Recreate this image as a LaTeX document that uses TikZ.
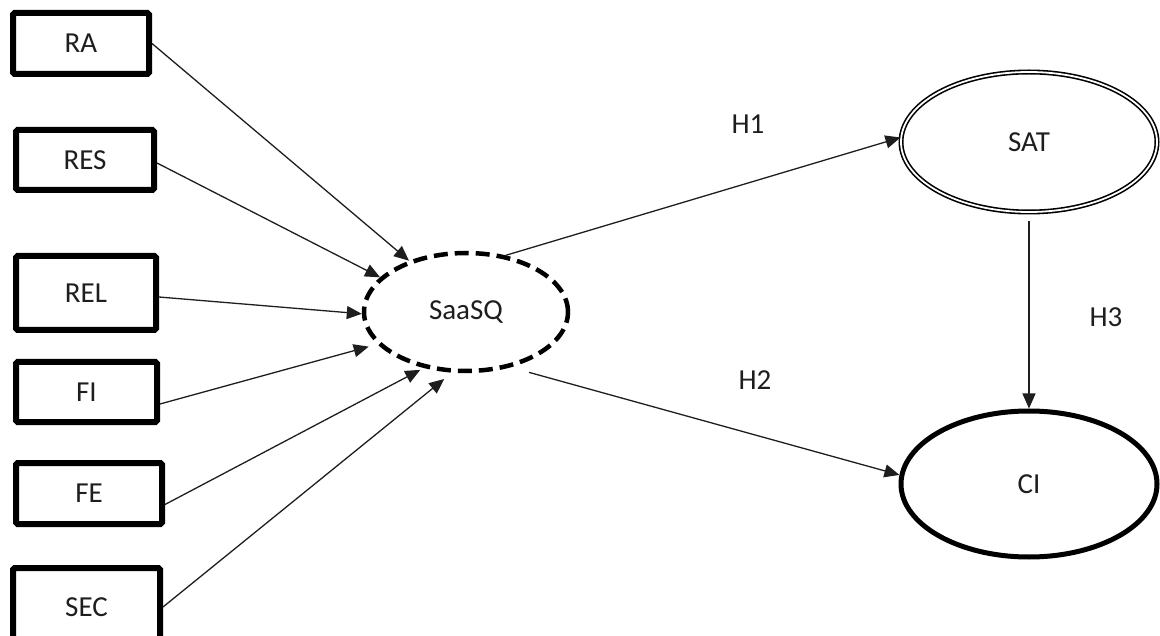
\documentclass[tikz,border=0pt]{standalone}
\usepackage{fontspec}
\setmainfont{Carlito}
\usetikzlibrary{shapes.geometric,arrows.meta}
\definecolor{ink}{HTML}{1E1E1E}
\begin{document}
\begin{tikzpicture}[x=1pt,y=-1pt,
  every node/.style={font=\fontsize{29}{34}\selectfont, text=ink},
  factor/.style={rectangle, draw=black, line width=6pt, rounded corners=1.5pt, inner sep=0pt},
  latent/.style={ellipse, inner sep=0pt, minimum width=#1*2},
  link/.style={draw=ink, line width=1.3pt, -{Triangle[length=15pt,width=13pt]}},
  hyp/.style={inner sep=0pt}]
\clip (0,0) rectangle (1160,636);

% observed indicators
\node[factor, minimum width=136pt, minimum height=61pt] (ra)  at (81,43.5)  {RA};
\node[factor, minimum width=138pt, minimum height=60pt] (res) at (85,160)   {RES};
\node[factor, minimum width=140pt, minimum height=74pt] (rel) at (86,293)   {REL};
\node[factor, minimum width=141pt, minimum height=60pt] (fi)  at (86.5,392) {FI};
\node[factor, minimum width=146pt, minimum height=61pt] (fe)  at (89,493.5) {FE};
\node[factor, minimum width=147pt, minimum height=78pt] (sec) at (86.5,607) {SEC};

% constructs
\node[latent=102pt, minimum height=118pt, draw=black, line width=4.5pt,
      dash pattern=on 14pt off 7pt] (saasq) at (466,312) {SaaSQ};
\node[latent=128pt, minimum height=140pt, draw=black, line width=1.6pt,
      double=white, double distance=1.8pt] (sat) at (1029,142) {SAT};
\node[latent=128pt, minimum height=146pt, draw=black, line width=5pt] (ci) at (1029,484) {CI};

% indicator paths
\draw[link] (ra.east) -- (saasq.138);
\draw[link] ([yshift=-3pt]res.east) -- (saasq.158);
\draw[link] ([yshift=-4pt]rel.east) -- (saasq.181);
\draw[link, shorten >=9pt] ([yshift=-12pt]fi.east) -- (saasq.200);
\draw[link, shorten >=4pt] ([yshift=-11pt]fe.east) -- (saasq.233);
\draw[link, shorten >=10pt] (sec.east) -- (saasq.257);

% structural paths
\draw[link] (saasq.55) -- (sat.178);
\draw[link, shorten <=19pt] (saasq.-51) -- (ci.176);
\draw[link, shorten <=8pt] (sat.south) -- (ci.north);

% hypothesis labels
\node[hyp] (h1) at (748,124.5) {H1};
\node[hyp] (h2) at (755,380) {H2};
\node[hyp] (h3) at (1106,317) {H3};
\end{tikzpicture}
\end{document}
